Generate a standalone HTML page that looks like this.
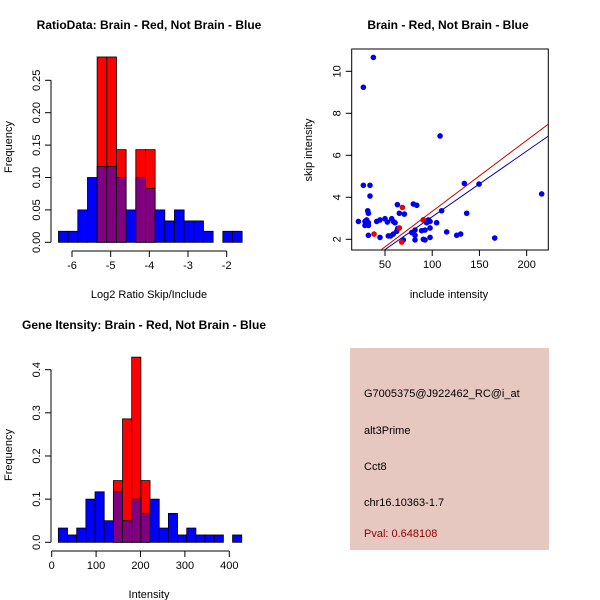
<!DOCTYPE html>
<html><head><meta charset="utf-8"><style>
body{margin:0;background:#fff}
svg{display:block;font-family:"Liberation Sans",Arial,sans-serif}
</style></head><body>
<svg id="s" width="600" height="600" xmlns="http://www.w3.org/2000/svg">
<text x="149" y="29" text-anchor="middle" font-weight="bold" font-size="12">RatioData: Brain - Red, Not Brain - Blue</text>
<text x="448" y="29" text-anchor="middle" font-weight="bold" font-size="12">Brain - Red, Not Brain - Blue</text>
<text x="144" y="329" text-anchor="middle" font-weight="bold" font-size="12">Gene Itensity: Brain - Red, Not Brain - Blue</text>
<text x="149" y="298" text-anchor="middle" font-size="11">Log2 Ratio Skip/Include</text>
<text x="12" y="147" text-anchor="middle" font-size="11" transform="rotate(-90 12 147)">Frequency</text>
<text x="149" y="598" text-anchor="middle" font-size="11">Intensity</text>
<text x="12" y="455" text-anchor="middle" font-size="11" transform="rotate(-90 12 455)">Frequency</text>
<text x="449" y="298" text-anchor="middle" font-size="11">include intensity</text>
<text x="312" y="150" text-anchor="middle" font-size="11" transform="rotate(-90 312 150)">skip intensity</text>
<g>
<rect x="350" y="348" width="199" height="202" fill="#e6c8c0"/>
<text x="364" y="397" font-size="11">G7005375@J922462_RC@i_at</text>
<text x="364" y="434" font-size="11">alt3Prime</text>
<text x="364" y="470" font-size="11">Cct8</text>
<text x="364" y="506" font-size="11">chr16.10363-1.7</text>
<text x="364" y="537" font-size="11" fill="#8b0000">Pval: 0.648108</text>
</g>
</svg>
<script>
// Ratio histogram
const ratioStart=-6.35, ratioWidth=0.25;
const ratioBlue=[0.017,0.017,0.05,0.1,0.117,0.117,0.1,0.05,0.1,0.083,0.05,0.033,0.05,0.033,0.033,0.017,0,0.017,0.017];
const ratioRed=[0,0,0,0,0.286,0.286,0.143,0,0.143,0.143,0,0,0,0,0,0,0,0,0];
const ratioXTicks=[-6,-5,-4,-3,-2];
const ratioYTicks=[0,0.05,0.1,0.15,0.2,0.25];
const ratioYLabels=["0.00","0.05","0.10","0.15","0.20","0.25"];
// Intensity histogram
const intStart=15, intWidth=20.65;
const intBlue=[0.033,0.017,0.033,0.1,0.117,0.05,0.117,0.05,0.1,0.067,0.1,0.033,0.067,0.017,0.033,0.017,0.017,0.017,0,0.017];
const intRed=[0,0,0,0,0,0,0.143,0.286,0.429,0.143,0,0,0,0,0,0,0,0,0,0];
const intXTicks=[0,100,200,300,400];
const intYTicks=[0,0.1,0.2,0.3,0.4];
const intYLabels=["0.0","0.1","0.2","0.3","0.4"];
// Scatter
const blueX=[21.8,27.1,37.7,27.1,34.1,34.1,31.7,32.4,30.6,28.8,32.4,28.8,32.4,32.4,44.7,41.2,44.7,50,52.5,57.1,58.8,60.6,53.5,56,58.8,62.4,63.4,63.1,65.2,70.5,69.4,80,83.6,81.8,81.8,81.8,78.3,90.6,92.4,88.8,94.1,95.9,97.7,97.7,97.7,90.6,92.4,104.7,110,108.3,115.3,125.9,130.1,134,136.5,149.6,166.2,215.9];
const blueY=[2.85,9.24,10.66,4.57,4.57,4.06,3.36,3.24,2.92,2.85,2.79,2.66,2.66,2.19,2.09,2.85,2.92,2.98,2.82,2.98,2.85,2.79,2.16,2.16,2.25,2.38,2.51,3.65,3.24,3.2,1.97,3.68,3.62,2.44,2.19,1.97,2.32,2.92,2.44,2.41,2.79,2.92,2.85,2.54,2.09,2.0,1.97,2.79,3.36,6.92,2.35,2.19,2.25,4.66,3.24,4.63,2.06,4.16];
const redX=[38.4,68.4,65.2,67.7,90.6];
const redY=[2.25,3.52,2.54,1.87,2.92];
const blueFit=[-0.05,0.03125];
const redFit=[-0.05,0.0338];
const scXTicks=[50,100,150,200];
const scYTicks=[2,4,6,8,10];

const s=document.getElementById('s');
const NS='http://www.w3.org/2000/svg';
function mk(t,a){const e=document.createElementNS(NS,t);for(const k in a)e.setAttribute(k,a[k]);s.appendChild(e);return e;}

function hist(o){
  const X=v=>o.x0+(v-o.d0)*o.kx, Y=v=>o.y0-v*o.ky;
  for(let i=0;i<o.red.length;i++){
    if(o.red[i]>0){const x=X(o.start+i*o.w);
      const r=mk('rect',{x:x,y:Y(o.red[i]),width:X(o.start+(i+1)*o.w)-x,height:o.red[i]*o.ky,fill:'#ff0000',stroke:'#000','stroke-width':0.8});
      
      }
  }
  for(let i=0;i<o.blue.length;i++){
    if(o.blue[i]>0){const x=X(o.start+i*o.w);
      const both=o.red[i]>0;
      const r=mk('rect',{x:x,y:Y(o.blue[i]),width:X(o.start+(i+1)*o.w)-x,height:o.blue[i]*o.ky,fill:both?'#800080':'#0000ff',stroke:'#000','stroke-width':0.8});
      
      }
  }
  const ax=mk('line',{x1:X(o.xt[0]),x2:X(o.xt[o.xt.length-1]),y1:o.axY,y2:o.axY,stroke:'#000'});
  
  
  o.xt.forEach(v=>{mk('line',{x1:X(v),x2:X(v),y1:o.axY,y2:o.axY+6,stroke:'#000'});
    const t=mk('text',{x:X(v),y:o.axY+18,'text-anchor':'middle','font-size':11});t.textContent=v;
    
    });
  const ay=mk('line',{x1:o.axX,x2:o.axX,y1:Y(o.yt[0]),y2:Y(o.yt[o.yt.length-1]),stroke:'#000'});
  
  
  o.yt.forEach((v,i)=>{mk('line',{x1:o.axX-6,x2:o.axX,y1:Y(v),y2:Y(v),stroke:'#000'});
    const ty=Y(v),tx=o.axX-11;
    const t=mk('text',{x:tx,y:ty,'text-anchor':'middle','font-size':11,transform:`rotate(-90 ${tx} ${ty})`});t.textContent=o.yl[i];
    
    });
}
hist({name:'ratio',red:ratioRed,blue:ratioBlue,start:ratioStart,w:ratioWidth,x0:72,d0:-6,kx:38.67,y0:242.3,ky:648,axY:251,axX:51,xt:ratioXTicks,yt:ratioYTicks,yl:ratioYLabels});
hist({name:'intensity',red:intRed,blue:intBlue,start:intStart,w:intWidth,x0:51.7,d0:0,kx:0.444,y0:542.3,ky:431.6,axY:551,axX:51,xt:intXTicks,yt:intYTicks,yl:intYLabels});

// scatter
const SX=v=>385+(v-50)*0.9444, SY=v=>239.3-(v-2)*21;
const bx={l:351.7,r:548.3,t:49,b:250};
const box=mk('rect',{x:bx.l,y:bx.t,width:bx.r-bx.l,height:bx.b-bx.t,fill:'none',stroke:'#000'});


const clip=mk('clipPath',{id:'cp'});const cr=document.createElementNS(NS,'rect');
cr.setAttribute('x',bx.l);cr.setAttribute('y',bx.t);cr.setAttribute('width',bx.r-bx.l);cr.setAttribute('height',bx.b-bx.t);clip.appendChild(cr);
scXTicks.forEach(v=>{mk('line',{x1:SX(v),x2:SX(v),y1:bx.b,y2:bx.b+6,stroke:'#000'});
  const t=mk('text',{x:SX(v),y:bx.b+18,'text-anchor':'middle','font-size':11});t.textContent=v;
  
  });
scYTicks.forEach(v=>{mk('line',{x1:bx.l-6,x2:bx.l,y1:SY(v),y2:SY(v),stroke:'#000'});
  const tx=bx.l-11,ty=SY(v);
  const t=mk('text',{x:tx,y:ty,'text-anchor':'middle','font-size':11,transform:`rotate(-90 ${tx} ${ty})`});t.textContent=v;
  
  });
function pts(xs,ys,c,n){for(let i=0;i<xs.length;i++){const p=mk('circle',{cx:SX(xs[i]),cy:SY(ys[i]),r:2.8,fill:c,'clip-path':'url(#cp)'});
  
  }}
pts(blueX,blueY,'#0000ee','blue-point');
pts(redX,redY,'#ee0000','red-point');
function fit(f,c,n){const x1=0,x2=240;const l=mk('line',{x1:SX(x1),y1:SY(f[0]+f[1]*x1),x2:SX(x2),y2:SY(f[0]+f[1]*x2),stroke:c,'stroke-width':1,'clip-path':'url(#cp)'});
  
  }
fit(redFit,'#cc0000','red-fit-line');
fit(blueFit,'#0000aa','blue-fit-line');
</script>
</body></html>
